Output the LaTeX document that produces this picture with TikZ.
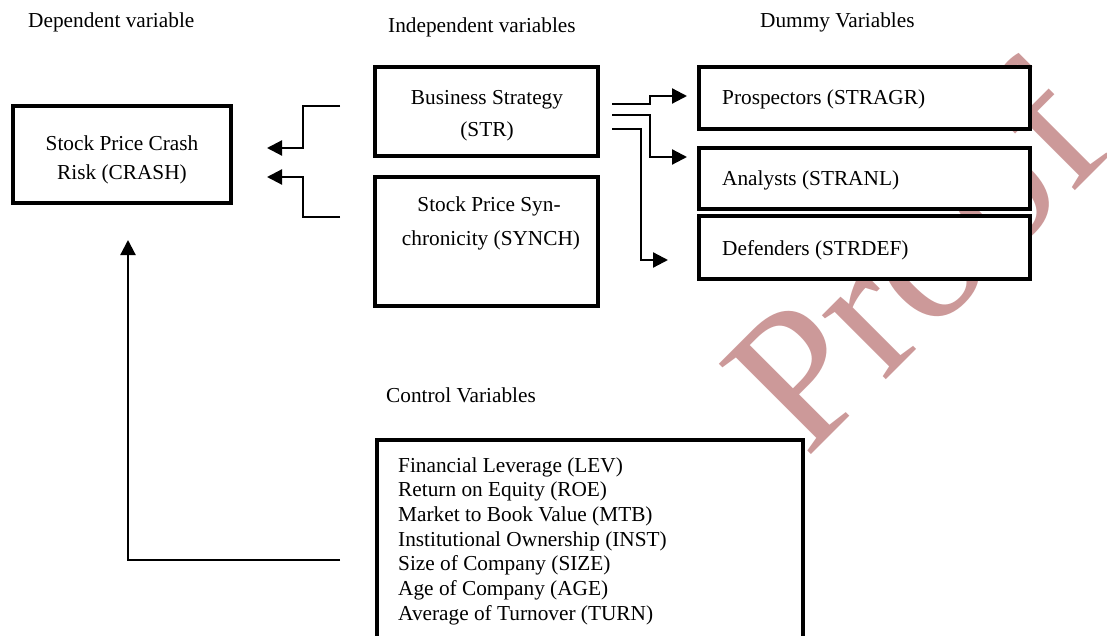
\documentclass[tikz,border=0pt]{standalone}
\usepackage{fontspec}
\setmainfont{Liberation Serif}
\usetikzlibrary{arrows.meta}
\definecolor{wm}{RGB}{204,153,153}
\begin{document}
\begin{tikzpicture}[x=1pt,y=-1pt,
  box/.style={draw=black, line width=4pt, fill=white, rectangle, inner sep=0pt, outer sep=0pt, anchor=north west},
  txt/.style={font=\fontsize{21.3}{24}\selectfont, inner sep=0pt, anchor=base west},
  ctxt/.style={font=\fontsize{21.3}{24}\selectfont, inner sep=0pt, anchor=base},
  conn/.style={line width=2.2pt, -{Triangle[length=15pt,width=15pt]}},
]
\clip (0,0) rectangle (1107,636);
\fill[white] (0,0) rectangle (1107,636);

% watermark
\node[rotate=45, anchor=base west, inner sep=0pt, text=wm, font=\fontsize{197}{197}\selectfont] (wmk) at (806,460) {Proof};

% headers
\node[txt] (hdep) at (28,28) {Dependent variable};
\node[txt] (hind) at (388,33) {Independent variables};
\node[txt] (hdum) at (760,28) {Dummy Variables};
\node[txt] (hcon) at (386,402) {Control Variables};

% boxes
\node[box, minimum width=218pt, minimum height=97pt] (crash) at (13,106) {};
\node[box, minimum width=223pt, minimum height=89pt] (str) at (375,67) {};
\node[box, minimum width=223pt, minimum height=129pt] (synch) at (375,177) {};
\node[box, minimum width=331pt, minimum height=62pt] (pro) at (699,67) {};
\node[box, minimum width=331pt, minimum height=61pt] (ana) at (699,148) {};
\node[box, minimum width=331pt, minimum height=63pt] (def) at (699,216) {};
\node[box, minimum width=426pt, minimum height=230pt] (ctrl) at (377,440) {};

% box texts
\node[ctxt] (crashA) at (122,151) {Stock Price Crash};
\node[ctxt] (crashB) at (122,180) {Risk (CRASH)};
\node[ctxt] (strA) at (487,105) {Business Strategy};
\node[ctxt] (strB) at (487,137) {(STR)};
\node[ctxt] (synA) at (489,212) {Stock Price Syn-};
\node[ctxt] (synB) at (491,245) {chronicity (SYNCH)};
\node[txt] (proT) at (722,105) {Prospectors (STRAGR)};
\node[txt] (anaT) at (722,186) {Analysts (STRANL)};
\node[txt] (defT) at (722,255) {Defenders (STRDEF)};
\node[txt] (c1) at (398,472) {Financial Leverage (LEV)};
\node[txt] (c2) at (398,496.7) {Return on Equity (ROE)};
\node[txt] (c3) at (398,521.3) {Market to Book Value (MTB)};
\node[txt] (c4) at (398,546) {Institutional Ownership (INST)};
\node[txt] (c5) at (398,570.7) {Size of Company (SIZE)};
\node[txt] (c6) at (398,595.3) {Age of Company (AGE)};
\node[txt] (c7) at (398,620) {Average of Turnover (TURN)};

% connector ends
\coordinate (l1s) at (340,106);
\coordinate (l1e) at (267,148);
\coordinate (l2s) at (340,217);
\coordinate (l2e) at (267,177);
\coordinate (cs) at (340,560);
\coordinate (ce) at (128,240);
\coordinate (r1s) at (612,104);
\coordinate (r1e) at (687,96);
\coordinate (r2s) at (612,115);
\coordinate (r2e) at (687,157);
\coordinate (r3s) at (612,129);
\coordinate (r3e) at (668,260);

\draw[conn] (l1s) -- ++(-37,0) |- (l1e);
\draw[conn] (l2s) -- ++(-37,0) |- (l2e);
\draw[conn] (cs) -| (ce);
\draw[conn] (r1s) -- ++(38,0) |- (r1e);
\draw[conn] (r2s) -- ++(38,0) |- (r2e);
\draw[conn] (r3s) -- ++(29,0) |- (r3e);
\end{tikzpicture}
\end{document}
